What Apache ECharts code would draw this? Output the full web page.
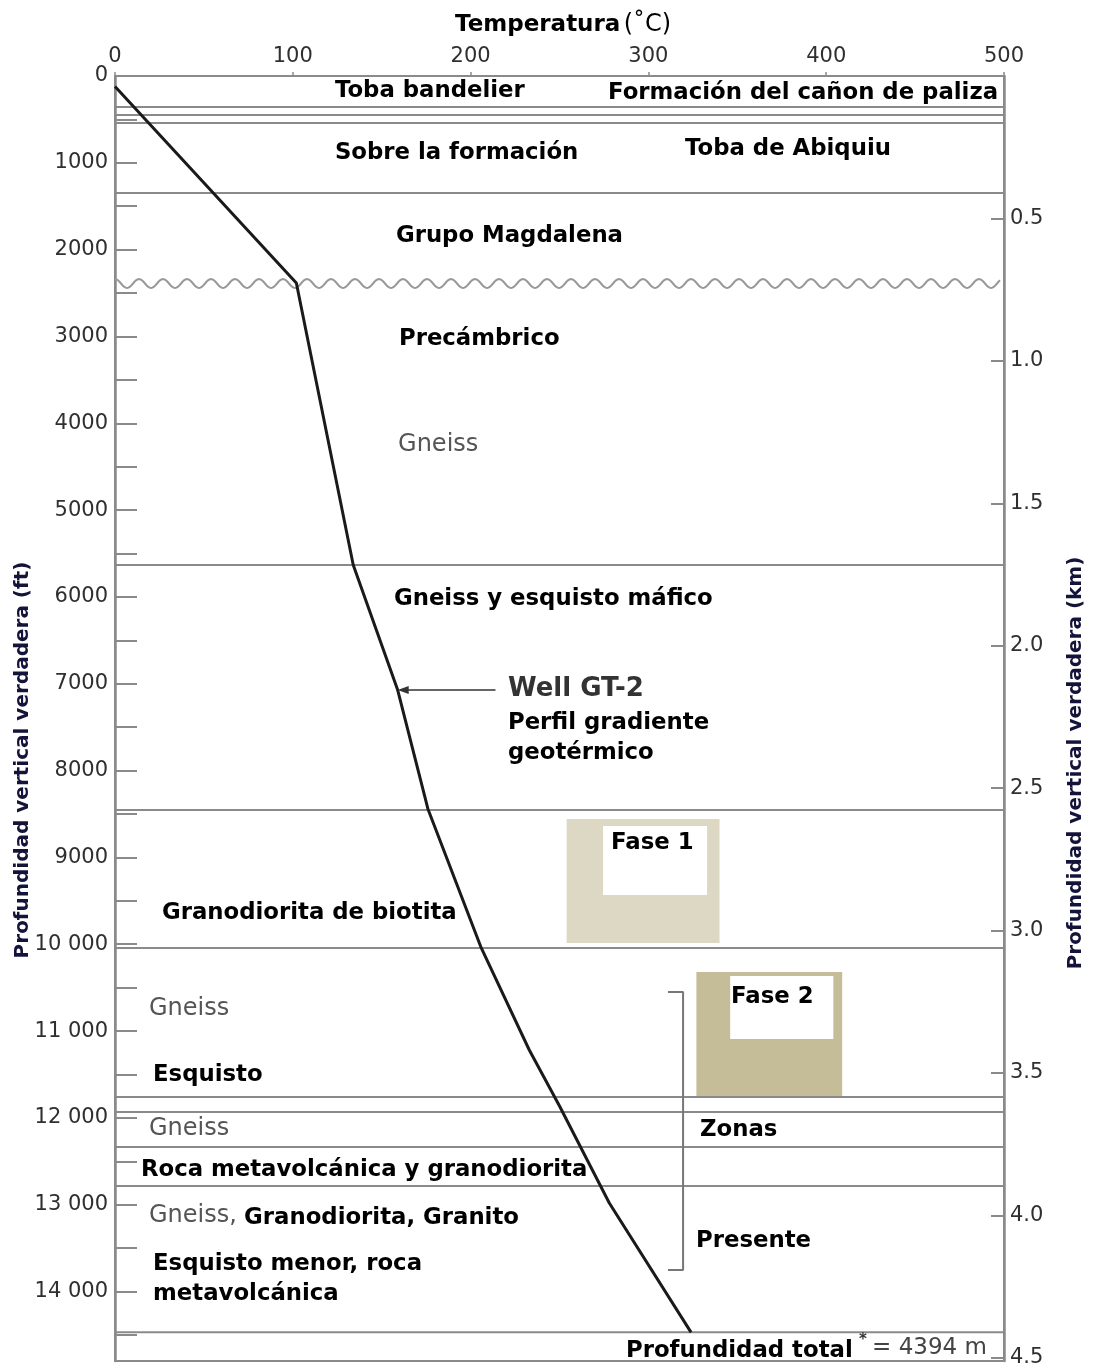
<!DOCTYPE html>
<html>
<head>
<meta charset="utf-8">
<script src="https://cdn.jsdelivr.net/npm/echarts@6/dist/echarts.min.js"></script>
<style>
  html, body { margin: 0; padding: 0; background: #fff; }
  #chart { width: 1093px; height: 1370px; }
</style>
</head>
<body>
<div id="chart"></div>
<script>
// ---- Scales ----------------------------------------------------------
const TEMP_MIN = 0, TEMP_MAX = 500, TEMP_STEP = 100;          // °C
const DEPTH_MAX_FT = 14800, DEPTH_STEP_FT = 500;              // ft
const FT_PER_KM = 3280.84;

// ---- Well GT-2 geothermal gradient profile ----------------------------
const profileTemp  = [0, 102, 134, 159, 176, 206, 233, 250, 278, 324];
const profileDepth = [120, 2384, 5632, 7072, 8442, 10043, 11218, 11863, 12980, 14470];

// ---- Formation contacts (ft) -------------------------------------------
const contactDepths = [357, 449, 541, 1348, 5632, 8454, 10043, 11759, 11932, 12335, 12784, 14470];
const unconformityDepth = 2390;   // base of Grupo Magdalena (wavy contact)

// ---- Production phases: temperature range (°C) and depth range (ft) ----
const phaseNames = ['Fase 1', 'Fase 2'];
const phaseTemp  = [[254, 340], [327, 409]];
const phaseDepth = [[8558, 9986], [10320, 11771]];
const phaseColors = ['#ddd8c4', '#c5bd97'];

// ---- "Zonas presente" bracket ----------------------------------------
const zoneTemp  = [311, 319.5];
const zoneDepth = [10550, 13752];

// ---- Pointer to the profile ------------------------------------------
const pointerTemp  = [214, 159];
const pointerDepth = 7072;

// ---- Layout: white label boxes inside the phase boxes ------------------
const phaseLabelBox = [
  { t: [274.5, 333.0], d: [8638, 9433] },
  { t: [346.0, 404.0], d: [10366, 11091] }
];

// ---- Layout: text annotations [text, temp, depth, kind] ---------------
const annotations = [
  ['Toba bandelier', 123.7, 173, 'b'],
  ['Formación del cañon de paliza', 277.3, 196, 'b'],
  ['Sobre la formación', 123.7, 887, 'b'],
  ['Toba de Abiquiu', 320.6, 841, 'b'],
  ['Grupo Magdalena', 158.0, 1843, 'b'],
  ['Precámbrico', 159.7, 3029, 'b'],
  ['Gneiss', 159.2, 4250, 'g'],
  ['Gneiss y esquisto máfico', 156.9, 6024, 'b'],
  ['Well GT-2', 221.0, 7060, 'w'],
  ['Perfil gradiente', 221.0, 7452, 'b'],
  ['geotérmico', 221.0, 7797, 'b'],
  [phaseNames[0], 279.0, 8834, 'b'],
  ['Granodiorita de biotita', 26.4, 9640, 'b'],
  [phaseNames[1], 346.5, 10607, 'b'],
  ['Gneiss', 19.1, 10746, 'g'],
  ['Esquisto', 21.4, 11506, 'b'],
  ['Gneiss', 19.1, 12128, 'g'],
  ['Zonas', 329.0, 12140, 'b'],
  ['Roca metavolcánica y granodiorita', 14.6, 12600, 'b'],
  ['Gneiss,', 19.1, 13130, 'g'],
  ['Granodiorita, Granito', 72.6, 13153, 'b'],
  ['Presente', 326.8, 13418, 'b'],
  ['Esquisto menor, roca', 21.4, 13683, 'b'],
  ['metavolcánica', 21.4, 14028, 'b'],
  ['Profundidad total', 287.4, 14685, 'b'],
  ['*', 418.5, 14558, 's'],
  ['= 4394 m', 425.8, 14650, 'n']
];

const textKinds = {
  b: { fontFamily: 'DejaVu Sans', fontWeight: 'bold',   fontSize: 22.8, fill: '#000' },
  g: { fontFamily: 'DejaVu Sans', fontWeight: 'normal', fontSize: 24, fill: '#555' },
  w: { fontFamily: 'DejaVu Sans', fontWeight: 'bold',   fontSize: 26, fill: '#333' },
  n: { fontFamily: 'DejaVu Sans', fontWeight: 'normal', fontSize: 23, fill: '#444' },
  s: { fontFamily: 'DejaVu Sans', fontWeight: 'bold',   fontSize: 15, fill: '#333' }
};

const GRAY = '#8a8a8a';
const TICK_TEXT = '#2f2f2f';
const chart = echarts.init(document.getElementById('chart'), null, { renderer: 'canvas' });

const option = {
  animation: false,
  backgroundColor: '#fff',
  grid: {
    left: 115, top: 76, width: 889, height: 1285,
    show: true, borderColor: GRAY, borderWidth: 2,
    containLabel: false, outerBoundsMode: 'none'
  },
  xAxis: {
    type: 'value', position: 'top',
    min: TEMP_MIN, max: TEMP_MAX, interval: TEMP_STEP,
    axisLine: { show: true, lineStyle: { color: GRAY, width: 2 } },
    axisTick: { show: true, inside: false, length: 4, lineStyle: { color: GRAY, width: 1.5 } },
    axisLabel: { margin: 9, color: TICK_TEXT, fontSize: 21, fontFamily: 'DejaVu Sans' },
    splitLine: { show: false }
  },
  yAxis: [
    {
      type: 'value', position: 'left', inverse: true,
      min: 0, max: DEPTH_MAX_FT, interval: DEPTH_STEP_FT,
      axisLine: { show: true, lineStyle: { color: GRAY, width: 2.5 } },
      axisTick: { show: true, inside: true, length: 22, lineStyle: { color: GRAY, width: 2 } },
      axisLabel: {
        margin: 7, color: TICK_TEXT, fontSize: 21, fontFamily: 'DejaVu Sans',
        formatter: v => {
          if (v % 1000 !== 0) return '';
          return v >= 10000 ? Math.floor(v / 1000) + ' 000' : String(v);
        }
      },
      splitLine: { show: false }
    },
    {
      type: 'value', position: 'right', inverse: true,
      min: 0, max: DEPTH_MAX_FT / FT_PER_KM, interval: 0.5,
      axisLine: { show: true, lineStyle: { color: GRAY, width: 2.5 } },
      axisTick: { show: true, inside: true, length: 13, lineStyle: { color: GRAY, width: 2 } },
      axisLabel: {
        margin: 6, color: TICK_TEXT, fontSize: 21, fontFamily: 'DejaVu Sans',
        formatter: v => {
          const twice = v * 2;
          if (v <= 0 || Math.abs(twice - Math.round(twice)) > 1e-6) return '';
          return v.toFixed(1);
        }
      },
      splitLine: { show: false }
    }
  ],
  graphic: [
    {
      type: 'text', x: 455, y: 25, z: 100,
      style: {
        text: '{a|Temperatura} {b|(˚C)}',
        verticalAlign: 'middle',
        rich: {
          a: { fontFamily: 'DejaVu Sans', fontWeight: 'bold', fontSize: 23, color: '#000' },
          b: { fontFamily: 'DejaVu Sans', fontWeight: 'normal', fontSize: 24, color: '#555' }
        }
      }
    },
    {
      type: 'text', x: 23, y: 760, rotation: Math.PI / 2, z: 100,
      style: {
        text: 'Profundidad vertical verdadera (ft)',
        align: 'center', verticalAlign: 'middle',
        fontFamily: 'DejaVu Sans', fontWeight: 'bold', fontSize: 20, fill: '#14143a'
      }
    },
    {
      type: 'text', x: 1076, y: 763, rotation: Math.PI / 2, z: 100,
      style: {
        text: 'Profundidad vertical verdadera (km)',
        align: 'center', verticalAlign: 'middle',
        fontFamily: 'DejaVu Sans', fontWeight: 'bold', fontSize: 20, fill: '#14143a'
      }
    }
  ],
  series: [
    // Production phase boxes with white label panels
    {
      type: 'custom', name: 'phases', z: 1, silent: true,
      data: phaseNames.map((n, i) => [phaseTemp[i][0], phaseDepth[i][0], phaseTemp[i][1], phaseDepth[i][1], i]),
      renderItem(params, api) {
        const i = api.value(4);
        const p0 = api.coord([api.value(0), api.value(1)]);
        const p1 = api.coord([api.value(2), api.value(3)]);
        const lb = phaseLabelBox[i];
        const q0 = api.coord([lb.t[0], lb.d[0]]);
        const q1 = api.coord([lb.t[1], lb.d[1]]);
        return {
          type: 'group',
          children: [
            { type: 'rect', shape: { x: p0[0], y: p0[1], width: p1[0] - p0[0], height: p1[1] - p0[1] },
              style: { fill: phaseColors[i] } },
            { type: 'rect', shape: { x: q0[0], y: q0[1], width: q1[0] - q0[0], height: q1[1] - q0[1] },
              style: { fill: '#fff' } }
          ]
        };
      }
    },
    // Formation contacts
    {
      type: 'custom', name: 'contacts', z: 2, silent: true,
      data: contactDepths.map(d => [TEMP_MIN, d, TEMP_MAX]),
      renderItem(params, api) {
        const a = api.coord([api.value(0), api.value(1)]);
        const b = api.coord([api.value(2), api.value(1)]);
        return { type: 'line', shape: { x1: a[0], y1: a[1], x2: b[0], y2: b[1] },
                 style: { stroke: GRAY, lineWidth: 2 } };
      }
    },
    // Unconformity (wavy contact)
    {
      type: 'custom', name: 'unconformity', z: 2, silent: true,
      data: [[TEMP_MIN, unconformityDepth, TEMP_MAX]],
      renderItem(params, api) {
        const a = api.coord([api.value(0), api.value(1)]);
        const b = api.coord([api.value(2), api.value(1)]);
        const period = 24, amp = 4.5;
        const pts = [];
        for (let x = a[0]; x <= b[0] - 3; x += 1.5) {
          pts.push([x, a[1] - amp * Math.cos(2 * Math.PI * (x - a[0]) / period)]);
        }
        return { type: 'polyline', shape: { points: pts, smooth: 0 },
                 style: { stroke: '#999', lineWidth: 2, fill: null } };
      }
    },
    // Zone bracket
    {
      type: 'line', name: 'zones', z: 3, silent: true, symbol: 'none',
      lineStyle: { color: '#777', width: 2 },
      data: [
        [zoneTemp[0], zoneDepth[0]], [zoneTemp[1], zoneDepth[0]],
        [zoneTemp[1], zoneDepth[1]], [zoneTemp[0], zoneDepth[1]]
      ]
    },
    // Geothermal gradient
    {
      type: 'line', name: 'Well GT-2', z: 5, silent: true, symbol: 'none',
      lineStyle: { color: '#1a1a1a', width: 3 },
      data: profileTemp.map((t, i) => [t, profileDepth[i]])
    },
    // Pointer arrow
    {
      type: 'custom', name: 'pointer', z: 6, silent: true,
      data: [[pointerTemp[0], pointerDepth, pointerTemp[1]]],
      renderItem(params, api) {
        const a = api.coord([api.value(0), api.value(1)]);
        const b = api.coord([api.value(2), api.value(1)]);
        return {
          type: 'group',
          children: [
            { type: 'line', shape: { x1: a[0], y1: a[1], x2: b[0] + 6, y2: b[1] },
              style: { stroke: '#333', lineWidth: 1.5 } },
            { type: 'polygon', shape: { points: [[b[0], b[1]], [b[0] + 11, b[1] - 4], [b[0] + 11, b[1] + 4]] },
              style: { fill: '#333' } }
          ]
        };
      }
    },
    // Text annotations
    {
      type: 'custom', name: 'labels', z: 10, silent: true,
      data: annotations.map((a, i) => [a[1], a[2], i]),
      renderItem(params, api) {
        const a = annotations[api.value(2)];
        const p = api.coord([api.value(0), api.value(1)]);
        const k = textKinds[a[3]];
        return {
          type: 'text', x: p[0], y: p[1],
          style: {
            text: a[0], align: 'left', verticalAlign: 'middle',
            fontFamily: k.fontFamily, fontWeight: k.fontWeight, fontSize: k.fontSize, fill: k.fill
          }
        };
      }
    }
  ]
};

chart.setOption(option);
</script>
</body>
</html>
